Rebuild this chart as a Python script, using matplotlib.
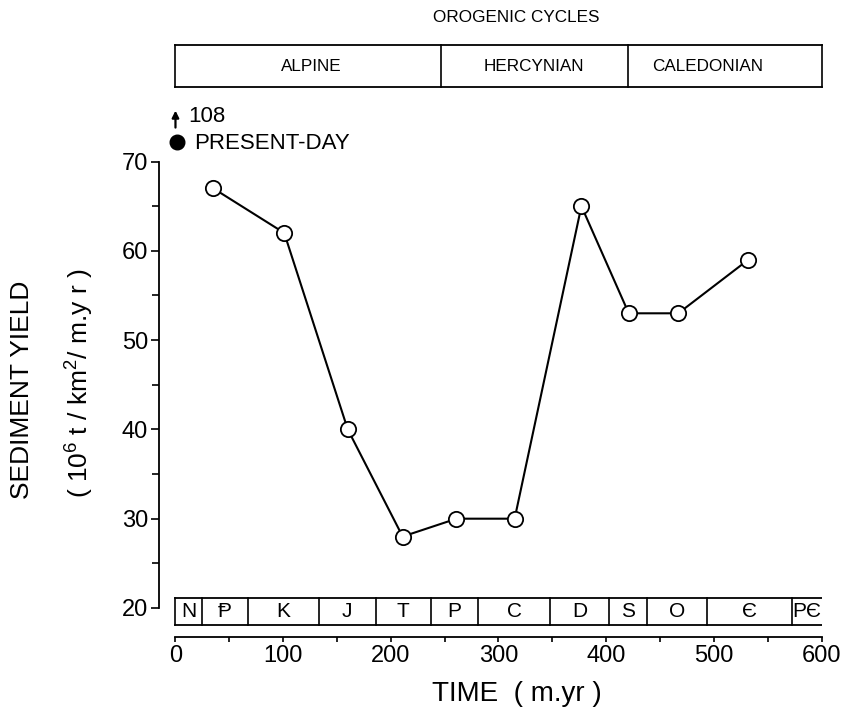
import matplotlib
matplotlib.use("Agg")
import matplotlib.pyplot as plt

# ---------------- data ----------------
time_myr = [35, 101, 160, 211, 261, 315, 377, 421, 467, 532]
sediment_yield = [67, 62, 40, 28, 30, 30, 65, 53, 53, 59]

present_x = 1
present_y = 72.2

period_labels = ["N", "\u2C63", "K", "J", "T", "P", "C", "D", "S", "O", "\u0404", "P\u0404"]
period_bounds = [0, 24.5, 67, 133, 186, 237, 281, 348, 403, 437.5, 494, 573, 600]

orogenic_labels = ["ALPINE", "HERCYNIAN", "CALEDONIAN"]
orogenic_bounds = [0, 247, 420, 600]

x_ticks_major = [0, 100, 200, 300, 400, 500, 600]
y_ticks_major = [20, 30, 40, 50, 60, 70]

FONT = ["Liberation Sans Narrow", "Liberation Sans", "DejaVu Sans"]
plt.rcParams["font.family"] = FONT
plt.rcParams["mathtext.fontset"] = "custom"
plt.rcParams["mathtext.rm"] = "Liberation Sans"
plt.rcParams["mathtext.it"] = "Liberation Sans"

W, H = 849, 714
fig = plt.figure(figsize=(W / 100, H / 100), dpi=100)

# main axes: pixel geometry
x_left_px, x_right_px = 159, 821.5
y_top_px, y_bot_px = 161.5, 637
ax = fig.add_axes([x_left_px / W, 1 - y_bot_px / H,
                   (x_right_px - x_left_px) / W, (y_bot_px - y_top_px) / H])
ax.set_xlim(-15.3, 600)
ax.set_ylim(16.75, 70)

for s in ["top", "right"]:
    ax.spines[s].set_visible(False)
ax.spines["left"].set_bounds(20, 70)
ax.spines["bottom"].set_bounds(0, 600)
ax.spines["left"].set_linewidth(1.3)
ax.spines["bottom"].set_linewidth(1.3)

ax.set_xticks(x_ticks_major)
ax.set_xticks([50, 150, 250, 350, 450, 550], minor=True)
ax.set_yticks(y_ticks_major)
ax.set_yticks([25, 35, 45, 55, 65], minor=True)
ax.tick_params(axis="y", which="major", direction="out", length=6, width=1.2,
               labelsize=17, pad=2)
ax.tick_params(axis="y", which="minor", direction="out", length=5, width=1.2)
ax.tick_params(axis="x", which="both", direction="out", length=3.5, width=1.2,
               labelsize=17, pad=2)

# data line
ax.plot(time_myr, sediment_yield, color="black", lw=1.5, marker="o",
        ms=11, mfc="white", mec="black", mew=1.3, zorder=3)

# present-day point
ax.plot([present_x], [present_y], marker="o", ms=10.5, color="black",
        clip_on=False, zorder=4)
ax.annotate("", xy=(0, 75.7), xytext=(0, 73.8),
            arrowprops=dict(arrowstyle="-|>", color="black", lw=1.6,
                            mutation_scale=10, shrinkA=0, shrinkB=0),
            annotation_clip=False)
ax.text(12, 75.0, "108", fontsize=16, va="center", ha="left", clip_on=False)
ax.text(17, 72.0, "PRESENT-DAY", fontsize=16, va="center", ha="left",
        clip_on=False)

# geological period bar
bar_bot, bar_top = 18.1, 21.12
ax.plot([period_bounds[0], period_bounds[-1]], [bar_top, bar_top], color="black", lw=1.3)
ax.plot([period_bounds[0], period_bounds[-1]], [bar_bot, bar_bot], color="black", lw=1.3)
for b in period_bounds[:-1]:
    ax.plot([b, b], [bar_bot, bar_top], color="black", lw=1.2)
for i, lab in enumerate(period_labels):
    cx = (period_bounds[i] + period_bounds[i + 1]) / 2
    ax.text(cx, (bar_bot + bar_top) / 2 - 0.05, lab, ha="center", va="center",
            fontsize=15)

# axis labels
fig.text(517 / W, 1 - 694 / H, "TIME  ( m.yr )", ha="center", va="center", fontsize=20)
fig.text(22 / W, 1 - 390 / H, "SEDIMENT YIELD", rotation=90, ha="center",
         va="center", fontsize=19)
fig.text(80 / W, 1 - 383 / H, r"( 10$^{6}$ t / km$^{2}$/ m.y r )", rotation=90,
         ha="center", va="center", fontsize=19)

# orogenic cycles box
top_px, bot_px = 45, 87.3
axo = fig.add_axes([x_left_px / W, 1 - bot_px / H,
                    (x_right_px - x_left_px) / W, (bot_px - top_px) / H])
axo.set_xlim(-15.3, 600)
axo.set_ylim(0, 1)
axo.axis("off")
axo.plot([orogenic_bounds[0], orogenic_bounds[-1]], [1, 1], color="black", lw=1.3, clip_on=False)
axo.plot([orogenic_bounds[0], orogenic_bounds[-1]], [0, 0], color="black", lw=1.3, clip_on=False)
for b in orogenic_bounds:
    axo.plot([b, b], [0, 1], color="black", lw=1.2, clip_on=False)
label_x = [126, 333, 494]
for lab, lx in zip(orogenic_labels, label_x):
    axo.text(lx, 0.5, lab, ha="center", va="center", fontsize=12.3)

fig.text(516 / W, 1 - 18 / H, "OROGENIC CYCLES", ha="center", va="center", fontsize=12.3)

fig.savefig("out.png", dpi=100)
